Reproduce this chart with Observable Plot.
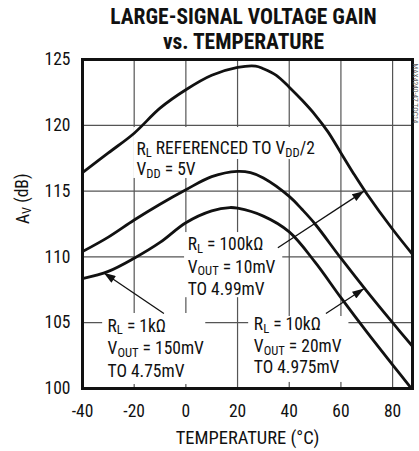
<!DOCTYPE html>
<html><head><meta charset="utf-8">
<script src="https://cdn.jsdelivr.net/npm/d3@7"></script>
<script src="https://cdn.jsdelivr.net/npm/@observablehq/plot@0.6"></script>
<style>
html,body{margin:0;padding:0;background:#fff;}
#chart svg{display:block;}
#chart svg text{font-stretch:condensed;}
</style></head><body><div id="chart"></div>
<script>
const FONT = '"Roboto Condensed",Roboto,"Liberation Sans",Arial,sans-serif';

// ---- data ----
const temps100k = [-40,-30,-20,-10,0,10,20,27,30,35,40,45,50,55,60,65,70,80,87.7];
const gain100k  = [116.4,117.9,119.4,121.3,122.7,123.8,124.4,124.5,124.3,123.8,122.9,121.9,120.8,119.5,117.9,116.3,114.8,112.1,110.2];
const temps10k  = [-40,-30,-20,-10,0,10,20,25,30,40,45,50,60,70,80,87.7];
const gain10k   = [110.4,111.5,112.8,114.0,115.1,116.1,116.5,116.4,116.0,114.6,113.6,112.5,109.9,107.4,105.0,103.2];
const temps1k   = [-40,-30,-20,-10,0,10,17,20,30,40,50,60,70,80,87.7];
const gain1k    = [108.35,108.9,109.9,111.1,112.6,113.5,113.75,113.7,113.1,111.9,109.6,106.9,104.3,101.8,99.9];

const xTicks = [-40,-20,0,20,40,60,80];
const yTicks = [100,105,110,115,120,125];

const titleLines = ["LARGE-SIGNAL VOLTAGE GAIN", "vs. TEMPERATURE"];
const xLabel = "TEMPERATURE (°C)";
const yLabel = "A_{V} (dB)";
const sideNote = "MAX4240-47 TOC14";

// annotation text lines: temperature (left edge), gain (baseline), text
const noteT = [-19.1,-19.1, 0.7,0.7,0.7, -30.3,-30.3,-30.3, 26.3,26.3,26.3];
const noteG = [117.78,116.19, 110.49,108.81,107.07, 104.33,102.62,100.88, 104.41,102.76,101.18];
const noteText = [
  "R_{L} REFERENCED TO V_{DD}/2", "V_{DD} = 5V",
  "R_{L} = 100kΩ", "V_{OUT} = 10mV", "TO 4.99mV",
  "R_{L} = 1kΩ", "V_{OUT} = 150mV", "TO 4.75mV",
  "R_{L} = 10kΩ", "V_{OUT} = 20mV", "TO 4.975mV"
];
// white label backgrounds (temperature / gain extents)
const boxT1 = [-20.2,-20.2,-0.5,-32.2,24.3];
const boxT2 = [58.1,4.6,37.5,7.7,63.1];
const boxG1 = [119.83,117.4,111.85,105.7,105.47];
const boxG2 = [117.4,115.96,106.9,100.3,100.46];
// arrows: from label to curve
const arrT1 = [35.6,-8.5,54.2];
const arrG1 = [110.7,105.7,105.7];
const arrT2 = [69.0,-31.8,69.0];
const arrG2 = [115.0,108.8,107.6];

// ---- tables ----
const curves = [
  ...temps100k.map((t,i)=>({series:"100k", t, g:gain100k[i]})),
  ...temps10k.map((t,i)=>({series:"10k", t, g:gain10k[i]})),
  ...temps1k.map((t,i)=>({series:"1k", t, g:gain1k[i]}))
];
const notes = noteT.map((t,i)=>({t, g:noteG[i], text:noteText[i]}));
const boxes = boxT1.map((t,i)=>({t1:t, t2:boxT2[i], g1:boxG1[i], g2:boxG2[i]}));
const arrows = arrT1.map((t,i)=>({t1:t, g1:arrG1[i], t2:arrT2[i], g2:arrG2[i]}));

const FS = 17.5;
const plot = Plot.plot({
  width: 419, height: 451,
  marginTop: 59, marginBottom: 63, marginLeft: 82, marginRight: 7,
  style: {fontFamily: FONT, fontSize: FS + "px", color: "#111", background: "#fff", overflow: "visible"},
  x: {type: "linear", domain: [-40, 87.7]},
  y: {type: "linear", domain: [100, 125]},
  marks: [
    Plot.gridX(xTicks, {stroke: "#555", strokeOpacity: 1, strokeWidth: 1.2}),
    Plot.gridY(yTicks, {stroke: "#555", strokeOpacity: 1, strokeWidth: 1.2}),
    Plot.rect(boxes, {x1: "t1", x2: "t2", y1: "g1", y2: "g2", fill: "white"}),
    Plot.frame({stroke: "#111", strokeWidth: 3}),
    Plot.line(curves, {x: "t", y: "g", z: "series", stroke: "#111", strokeWidth: 2.8, curve: "catmull-rom", clip: true}),
    Plot.link(arrows, {x1: "t1", y1: "g1", x2: "t2", y2: "g2", stroke: "#111", strokeWidth: 1.3}),
    Plot.text(notes, {x: "t", y: "g", text: "text", textAnchor: "start", lineAnchor: "bottom", fill: "#111", fontSize: FS}),
    Plot.axisX(xTicks, {tickSize: 0, tickPadding: 16, label: null, tickFormat: d => String(d), fontSize: FS}),
    Plot.axisY(yTicks, {tickSize: 0, tickPadding: 12, label: null, tickFormat: d => String(d), fontSize: FS}),
    Plot.text([xLabel], {frameAnchor: "bottom", dy: 55, lineAnchor: "bottom", text: d => d, fontSize: 18.5}),
    Plot.text([yLabel], {frameAnchor: "left", dx: -54, rotate: -90, lineAnchor: "bottom", text: d => d, fontSize: FS}),
    Plot.text([titleLines[0]], {frameAnchor: "top", dx: -4, dy: -35.7, lineAnchor: "bottom", text: d => d, fontSize: 21.5, fontWeight: "bold"}),
    Plot.text([titleLines[1]], {frameAnchor: "top", dx: -4, dy: -10.7, lineAnchor: "bottom", text: d => d, fontSize: 21.5, fontWeight: "bold"}),
    Plot.text([sideNote], {frameAnchor: "top-right", dx: 3, dy: 4, rotate: 90, textAnchor: "start", lineAnchor: "middle", text: d => d, fontSize: 7.5, fill: "#666"})
  ]
});

// filled arrowheads on the links
const ns = "http://www.w3.org/2000/svg";
const defs = document.createElementNS(ns, "defs");
const marker = document.createElementNS(ns, "marker");
marker.setAttribute("id", "ahead");
marker.setAttribute("viewBox", "0 0 12 8");
marker.setAttribute("refX", "12");
marker.setAttribute("refY", "4");
marker.setAttribute("markerWidth", "13");
marker.setAttribute("markerHeight", "8");
marker.setAttribute("markerUnits", "userSpaceOnUse");
marker.setAttribute("orient", "auto");
const mp = document.createElementNS(ns, "path");
mp.setAttribute("d", "M0,0L12,4L0,8Z");
mp.setAttribute("fill", "#111");
marker.appendChild(mp);
defs.appendChild(marker);
plot.insertBefore(defs, plot.firstChild);
plot.querySelectorAll('g[aria-label="link"] path, g[aria-label="link"] line').forEach(p => p.setAttribute("marker-end", "url(#ahead)"));

// subscripts: "X_{sub}" -> tspans
plot.querySelectorAll("text").forEach(t => {
  const s = t.textContent;
  if (!s.includes("_{")) return;
  const parts = s.split(/_\{([^}]*)\}/);
  while (t.firstChild) t.removeChild(t.firstChild);
  let sub = false;
  parts.forEach((p, i) => {
    const isSub = i % 2 === 1;
    if (!p && !isSub) { return; }
    const ts = document.createElementNS(ns, "tspan");
    ts.textContent = p;
    if (isSub) { ts.setAttribute("font-size", "72%"); ts.setAttribute("dy", "0.22em"); sub = true; }
    else if (sub) { ts.setAttribute("dy", "-0.16em"); sub = false; }
    t.appendChild(ts);
  });
});

document.getElementById("chart").appendChild(plot);
</script></body></html>
